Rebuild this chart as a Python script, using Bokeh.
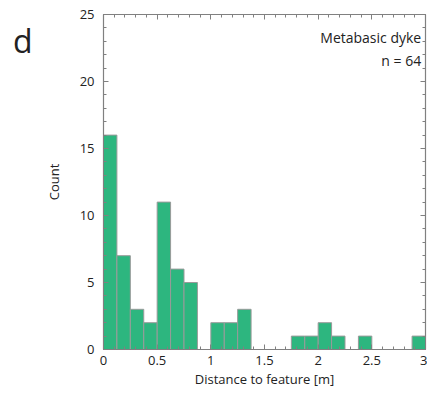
import numpy as np
from bokeh.plotting import figure
from bokeh.models import (Range1d, LinearAxis, SingleIntervalTicker, NumeralTickFormatter,
                          CustomJSTickFormatter, Label, ColumnDataSource)
from bokeh.embed import file_html
from bokeh.resources import INLINE

# --- data ---------------------------------------------------------------
bin_width = 0.125
counts = [16, 7, 3, 2, 11, 6, 5, 0, 2, 2, 3, 0, 0, 0, 1, 1, 2, 1, 0, 1, 0, 0, 0, 1]
panel_letter = "d"
title_text = "Metabasic dyke"
n_text = "n = 64"
x_label = "Distance to feature [m]"
y_label = "Count"

lefts = [i * bin_width for i in range(len(counts))]
src = ColumnDataSource(dict(
    left=[l for l, c in zip(lefts, counts) if c > 0],
    right=[l + bin_width for l, c in zip(lefts, counts) if c > 0],
    top=[c for c in counts if c > 0],
))

FONT = "Open Sans"
AX = "#808080"
TXT = "#222222"

p = figure(width=427, height=390, output_backend="svg", toolbar_location=None,
           x_range=Range1d(0, 3), y_range=Range1d(0, 25),
           x_axis_location=None, y_axis_location=None,
           min_border_left=103, min_border_right=2, min_border_top=14, min_border_bottom=40)
p.grid.visible = False
p.outline_line_color = AX
p.outline_line_width = 1.2
p.background_fill_color = "white"
p.border_fill_color = "white"

p.quad(left="left", right="right", bottom=0, top="top", source=src,
       fill_color="#2DB67F", line_color="#9a9a9a", line_width=1)

def style(ax, labels=True):
    ax.axis_line_color = AX
    ax.major_tick_line_color = AX
    ax.minor_tick_line_color = AX
    ax.major_tick_in = 5
    ax.major_tick_out = 0
    ax.minor_tick_in = 3
    ax.minor_tick_out = 0
    if labels:
        ax.major_label_text_font = FONT
        ax.major_label_text_font_size = "13px"
        ax.major_label_text_color = TXT
        ax.axis_label_text_font = FONT
        ax.axis_label_text_font_size = "13px"
        ax.axis_label_text_color = TXT
        ax.axis_label_text_font_style = "normal"
    else:
        ax.formatter = CustomJSTickFormatter(code="return '';")
        ax.major_label_standoff = 0

xb = LinearAxis(ticker=SingleIntervalTicker(interval=0.5, num_minor_ticks=5),
                formatter=NumeralTickFormatter(format="0.[0]"), axis_label=x_label)
style(xb)
xb.major_label_standoff = 6
xb.axis_label_standoff = 2
p.add_layout(xb, "below")

yl = LinearAxis(ticker=SingleIntervalTicker(interval=5, num_minor_ticks=5), axis_label=y_label)
style(yl)
yl.major_label_standoff = 9
yl.axis_label_standoff = 14
p.add_layout(yl, "left")

# panel letter, drawn as the label of a bare outer left axis
# (a leading empty line lowers the letter below the frame's top edge)
yd = LinearAxis(ticker=SingleIntervalTicker(interval=5, num_minor_ticks=0),
                axis_label="\n" + panel_letter,
                formatter=CustomJSTickFormatter(code="return '';"))
yd.axis_line_color = None
yd.major_tick_line_color = None
yd.minor_tick_line_color = None
yd.major_tick_in = 0
yd.major_tick_out = 0
yd.major_label_standoff = 0
yd.axis_label_standoff = 9
yd.axis_label_orientation = "horizontal"
yd.axis_label_align = "end"
yd.axis_label_text_font = FONT
yd.axis_label_text_font_size = "32px"
yd.axis_label_text_color = TXT
yd.axis_label_text_font_style = "normal"
p.add_layout(yd, "left")

xa = LinearAxis(ticker=SingleIntervalTicker(interval=0.5, num_minor_ticks=5))
style(xa, labels=False)
p.add_layout(xa, "above")
yr = LinearAxis(ticker=SingleIntervalTicker(interval=5, num_minor_ticks=5))
style(yr, labels=False)
p.add_layout(yr, "right")

p.add_layout(Label(x=2.96, y=22.55, text=title_text, text_font=FONT, text_align="right",
                   text_font_size="14px", text_color=TXT))
p.add_layout(Label(x=2.96, y=20.85, text=n_text, text_font=FONT, text_align="right",
                   text_font_size="14px", text_color=TXT))

open("out.html", "w").write(file_html(p, INLINE))
